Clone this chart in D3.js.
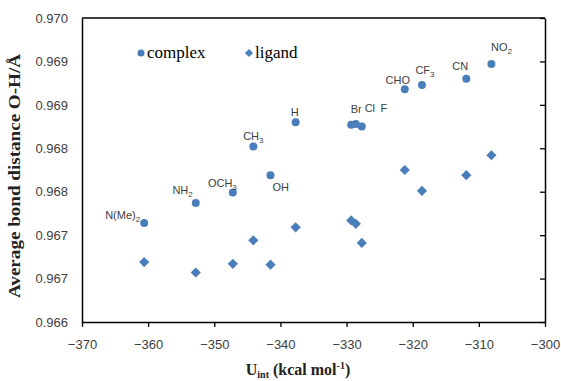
<!DOCTYPE html>
<html>
<head>
<meta charset="utf-8">
<title>O-H distance vs Uint</title>
<script src="https://d3js.org/d3.v7.min.js"></script>
<style>
  body { margin: 0; background: #fff; }
  .tick text { font-family: "Liberation Sans", Arial, sans-serif; font-size: 13px; fill: #404040; }
</style>
</head>
<body>
<script>
// substituents
var names = ['N(Me)2', 'NH2', 'OCH3', 'OH', 'CH3', 'H', 'Br', 'Cl', 'F', 'CHO', 'CF3', 'CN', 'NO2']
// interaction energy, kcal/mol
var uint = [-360.6, -352.8, -347.2, -341.5, -344.1, -337.7, -329.3, -328.6, -327.7, -321.2, -318.6, -311.9, -308.1]
// average O-H distance
var complexVals = [0.96714, 0.96737, 0.96749, 0.96769, 0.96802, 0.96830, 0.96827, 0.96828, 0.96825, 0.96868, 0.96873, 0.96880, 0.96897]
var ligandVals = [0.96669, 0.96657, 0.96667, 0.96666, 0.96694, 0.96709, 0.96717, 0.96713, 0.96691, 0.96775, 0.96751, 0.96769, 0.96792]

var xTicks = [-370, -360, -350, -340, -330, -320, -310, -300]
var yTicks = [0.9660, 0.9665, 0.9670, 0.9675, 0.9680, 0.9685, 0.9690, 0.9695]
var yTickLabels = ['0.966', '0.967', '0.967', '0.968', '0.968', '0.969', '0.969', '0.970']

// label placement relative to each complex point (px)
var labelOffset = {
  'N(Me)2': [-4, -4, 'end'], 'NH2': [-3, -9, 'end'], 'OCH3': [4, -6, 'end'],
  'OH': [2, 16, 'start'], 'CH3': [0, -7, 'middle'], 'H': [-1, -6, 'middle'],
  'Br': [5, -12, 'middle'], 'Cl': [14, -12, 'middle'], 'F': [22, -15, 'middle'],
  'CHO': [-7, -5, 'middle'], 'CF3': [3, -11, 'middle'], 'CN': [-6, -9, 'middle'], 'NO2': [10, -13, 'middle']
}

var margin = { top: 18, right: 16, bottom: 59, left: 82 }
var w = 561 - margin.left - margin.right
var h = 381 - margin.top - margin.bottom
var blue = '#4a7ebb'

var svg = d3.select('body').append('svg')
  .attr('width', 561)
  .attr('height', 381)
var g = svg.append('g')
  .attr('transform', 'translate(' + margin.left + ',' + margin.top + ')')

var xScale = d3.scaleLinear().domain([-370, -300]).range([0, w])
var yScale = d3.scaleLinear().domain([0.9660, 0.9695]).range([h, 0])

// frame: top + right
g.append('line').attr('x1', 0).attr('x2', w).attr('y1', 0).attr('y2', 0)
  .attr('stroke', '#000').attr('stroke-width', 1.3)

// x-axis
var xAxis = g.append('g')
  .attr('transform', 'translate(0,' + h + ')')
  .call(d3.axisBottom(xScale).tickValues(xTicks).tickSize(5).tickSizeOuter(0).tickPadding(13))
xAxis.select('.domain').attr('stroke-width', 1.5)
xAxis.selectAll('.tick line').attr('stroke-width', 1.3)

// y-axis (labels only)
var yAxis = g.append('g')
  .call(d3.axisLeft(yScale).tickValues(yTicks).tickSize(0).tickPadding(14)
    .tickFormat(function (d, i) { return yTickLabels[i] }))
yAxis.select('.domain').attr('stroke-width', 1.5)

// right axis with inward ticks
var rAxis = g.append('g')
  .attr('transform', 'translate(' + w + ',0)')
  .call(d3.axisLeft(yScale).tickValues(yTicks).tickSize(5).tickSizeOuter(0).tickFormat(''))
rAxis.select('.domain').attr('stroke-width', 1.5)
rAxis.selectAll('.tick line').attr('stroke-width', 1.3)

// ligand diamonds
g.selectAll('path.lig')
  .data(uint)
  .enter()
  .append('path')
  .attr('class', 'lig')
  .attr('d', d3.symbol().type(d3.symbolSquare).size(52))
  .attr('transform', function (d, i) {
    return 'translate(' + xScale(d) + ',' + yScale(ligandVals[i]) + ') rotate(45)'
  })
  .attr('fill', blue)

// complex circles
g.selectAll('circle.cpx')
  .data(uint)
  .enter()
  .append('circle')
  .attr('class', 'cpx')
  .attr('cx', function (d) { return xScale(d) })
  .attr('cy', function (d, i) { return yScale(complexVals[i]) })
  .attr('r', 4)
  .attr('fill', blue)

// point labels
function sub(name) {
  var m = name.match(/^(.*?)(\d)$/)
  return m ? [m[1], m[2]] : [name, null]
}
var lab = g.selectAll('text.lab')
  .data(names)
  .enter()
  .append('text')
  .attr('class', 'lab')
  .attr('x', function (d, i) { return xScale(uint[i]) + labelOffset[d][0] })
  .attr('y', function (d, i) { return yScale(complexVals[i]) + labelOffset[d][1] })
  .attr('text-anchor', function (d) { return labelOffset[d][2] })
  .attr('font-family', '"Liberation Sans", Arial, sans-serif')
  .attr('font-size', 11)
  .attr('fill', '#404040')
lab.each(function (d) {
  var p = sub(d)
  var t = d3.select(this)
  t.append('tspan').text(p[0])
  if (p[1]) t.append('tspan').attr('dy', 3).attr('font-size', 8).text(p[1])
})

// legend
var leg = svg.append('g').attr('font-family', '"Liberation Serif", "Times New Roman", serif').attr('font-size', 17)
leg.append('circle').attr('cx', 141).attr('cy', 53).attr('r', 3.5).attr('fill', blue)
leg.append('text').attr('x', 147).attr('y', 58).text('complex')
leg.append('path').attr('d', d3.symbol().type(d3.symbolSquare).size(34))
  .attr('transform', 'translate(249,53) rotate(45)').attr('fill', blue)
leg.append('text').attr('x', 255).attr('y', 58).text('ligand')

// axis titles
svg.append('text')
  .attr('transform', 'translate(20,176) rotate(-90)')
  .attr('text-anchor', 'middle')
  .attr('font-family', '"Liberation Serif", "Times New Roman", serif')
  .attr('font-weight', 'bold')
  .attr('font-size', 16)
  .attr('fill', '#222')
  .attr('textLength', 244)
  .attr('lengthAdjust', 'spacingAndGlyphs')
  .text('Average bond distance  O-H/Å')

var xt = svg.append('text')
  .attr('x', 298)
  .attr('y', 375)
  .attr('text-anchor', 'middle')
  .attr('font-family', '"Liberation Serif", "Times New Roman", serif')
  .attr('font-weight', 'bold')
  .attr('font-size', 16)
  .attr('fill', '#222')
xt.append('tspan').text('U')
xt.append('tspan').attr('dy', 3).attr('font-size', 10).text('int')
xt.append('tspan').attr('dy', -3).text(' (kcal mol')
xt.append('tspan').attr('dy', -6).attr('font-size', 10).text('-1')
xt.append('tspan').attr('dy', 6).text(')')
</script>
</body>
</html>
